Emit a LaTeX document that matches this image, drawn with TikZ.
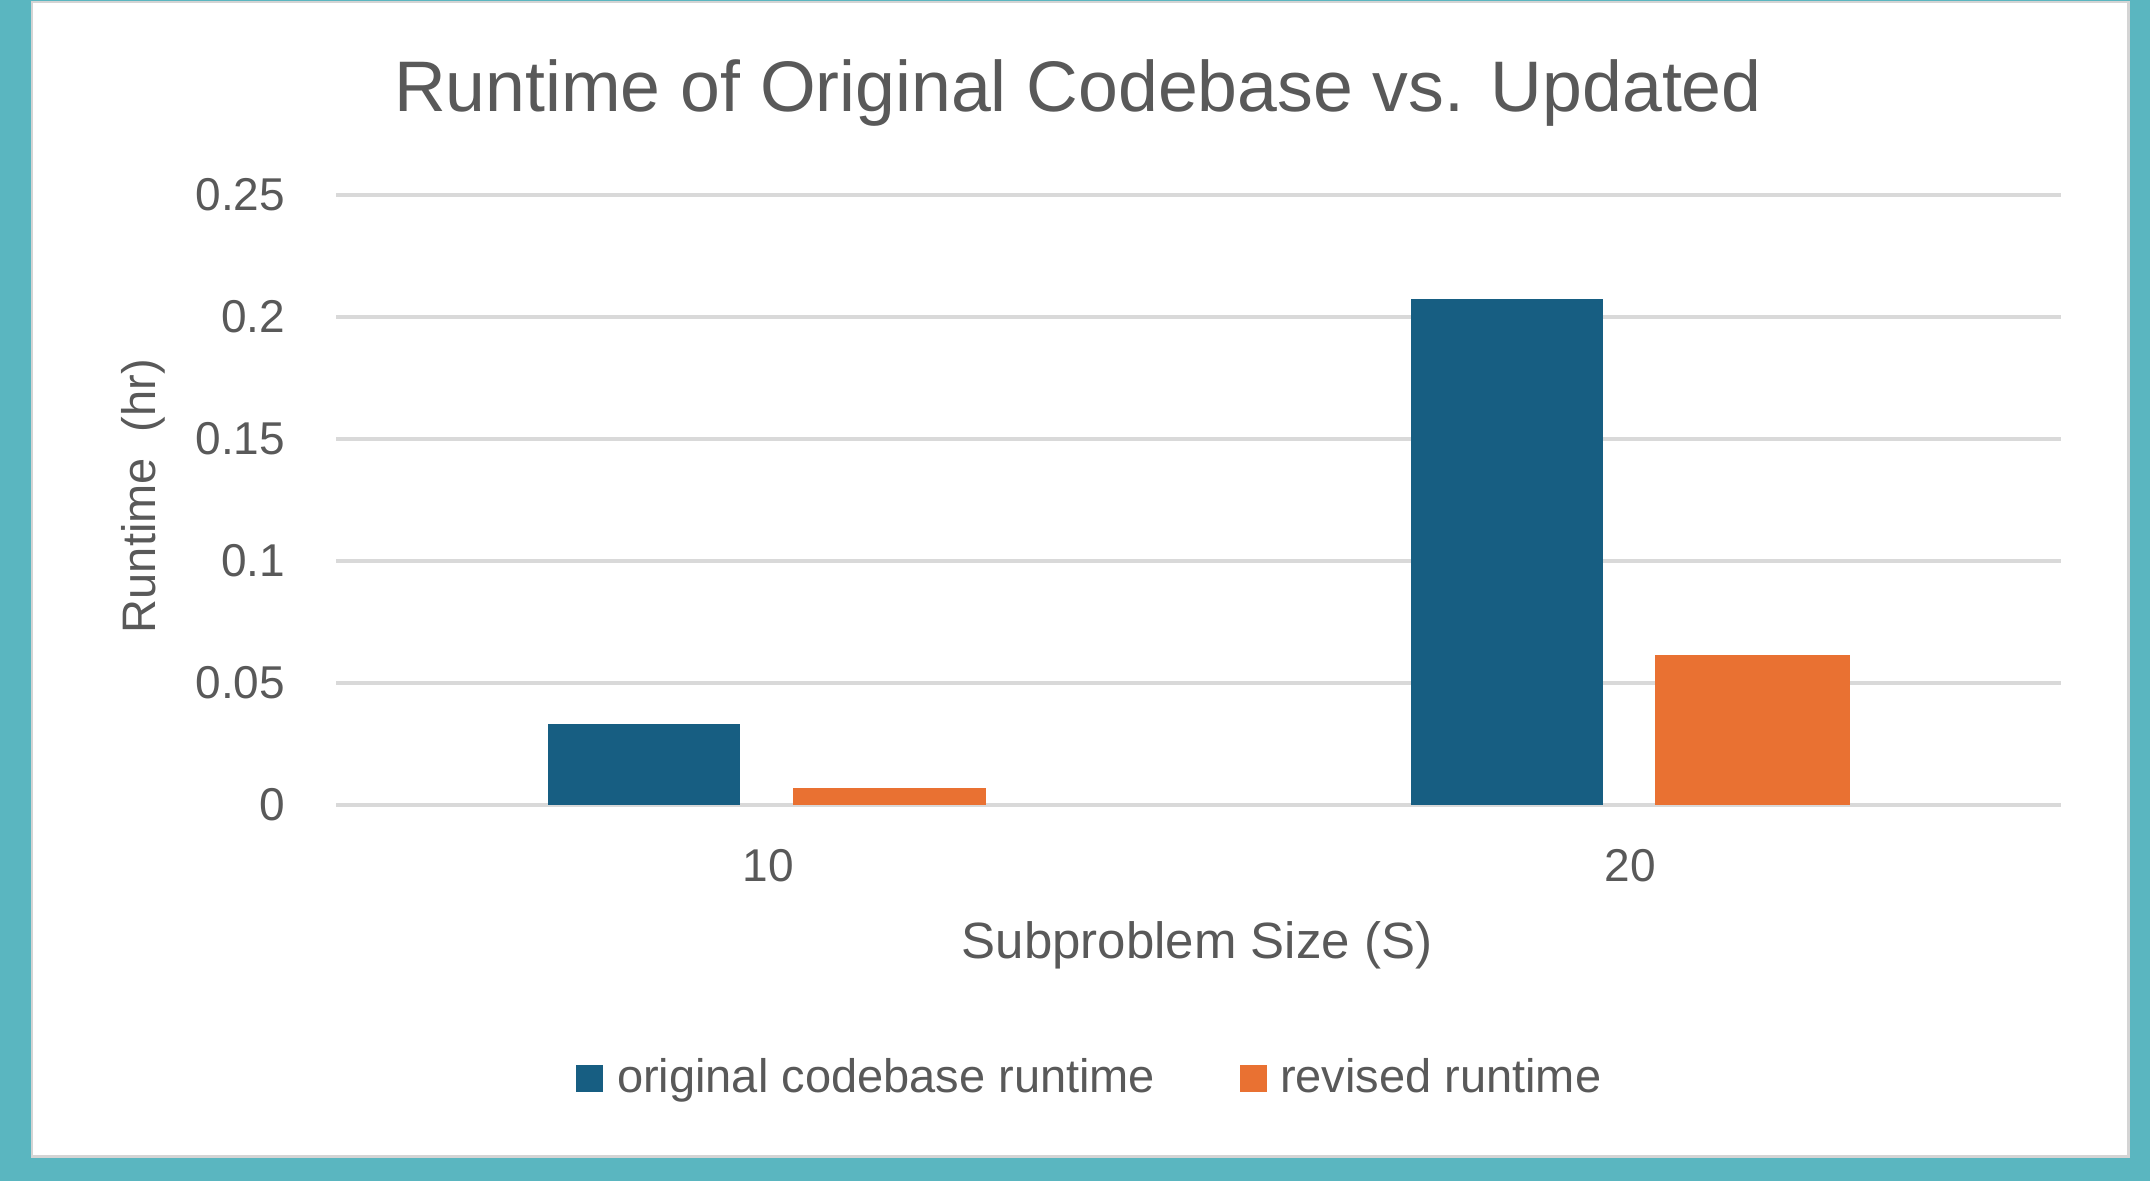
\documentclass[tikz,border=0pt]{standalone}
\usepackage{fontspec}
\setmainfont{Liberation Sans}
\definecolor{framebg}{HTML}{5AB6C0}
\definecolor{paneledge}{HTML}{D4D4D4}
\definecolor{gridgray}{HTML}{D9D9D9}
\definecolor{textgray}{HTML}{595959}
\definecolor{origblue}{HTML}{175E82}
\definecolor{revorange}{HTML}{E97132}
\tikzset{
  txt/.style={text=textgray, inner sep=0pt, outer sep=0pt},
  ticklbl/.style={txt, anchor=east, font=\fontsize{23}{23}\selectfont},
  catlbl/.style={txt, anchor=center, font=\fontsize{23}{23}\selectfont},
  axtitle/.style={txt, font=\fontsize{25.5}{25.5}\selectfont},
  legtxt/.style={txt, anchor=base west, font=\fontsize{23.5}{23.5}\selectfont},
  gridline/.style={draw=gridgray, line width=1.6pt},
  barorig/.style={fill=origblue},
  barrev/.style={fill=revorange},
}
\begin{document}
\begin{tikzpicture}[x=0.5pt, y=-0.5pt]
  \useasboundingbox (0,0) rectangle (2150,1181);
  % teal frame and white chart panel
  \fill[framebg] (0,0) rectangle (2150,1181);
  \fill[paneledge] (31,1) rectangle (2130,1158);
  \fill[white] (33,3) rectangle (2127,1155);

  % title
  \node[txt, anchor=base, font=\fontsize{35.8}{35.8}\selectfont] (title) at (1078,112)
    {Runtime of Original Codebase vs. Updated};

  % horizontal grid lines and value labels (0.05 = 122 px)
  \foreach \v/\lbl [count=\i] in {0/0, 0.05/0.05, 0.1/0.1, 0.15/0.15, 0.2/0.2, 0.25/0.25} {
    \pgfmathsetmacro{\yy}{805 - \v*2440}
    \draw[gridline] (336,\yy) -- (2061,\yy);
    \node[ticklbl] (tick\i) at (285,\yy) {\lbl};
  }

  % bars: original codebase runtime (blue) and revised runtime (orange)
  \fill[barorig] (548,805) rectangle (740,724);
  \fill[barrev]  (793,805) rectangle (986,788);
  \fill[barorig] (1411,805) rectangle (1603,299);
  \fill[barrev]  (1655,805) rectangle (1850,655);

  % category labels
  \node[catlbl] (cat10) at (768,866) {10};
  \node[catlbl] (cat20) at (1630,866) {20};

  % axis titles
  \node[axtitle, anchor=base] (xtitle) at (1197,958) {Subproblem Size (S)};
  \node[txt, font=\fontsize{23.5}{23.5}\selectfont, rotate=90, anchor=center] (ytitle) at (143,496) {Runtime\ \ (hr)};

  % legend
  \fill[origblue] (576,1065) rectangle (603,1092);
  \node[legtxt] (legorig) at (617,1092) {original codebase runtime};
  \fill[revorange] (1240,1065) rectangle (1267,1092);
  \node[legtxt] (legrev) at (1280,1092) {revised runtime};
\end{tikzpicture}
\end{document}
